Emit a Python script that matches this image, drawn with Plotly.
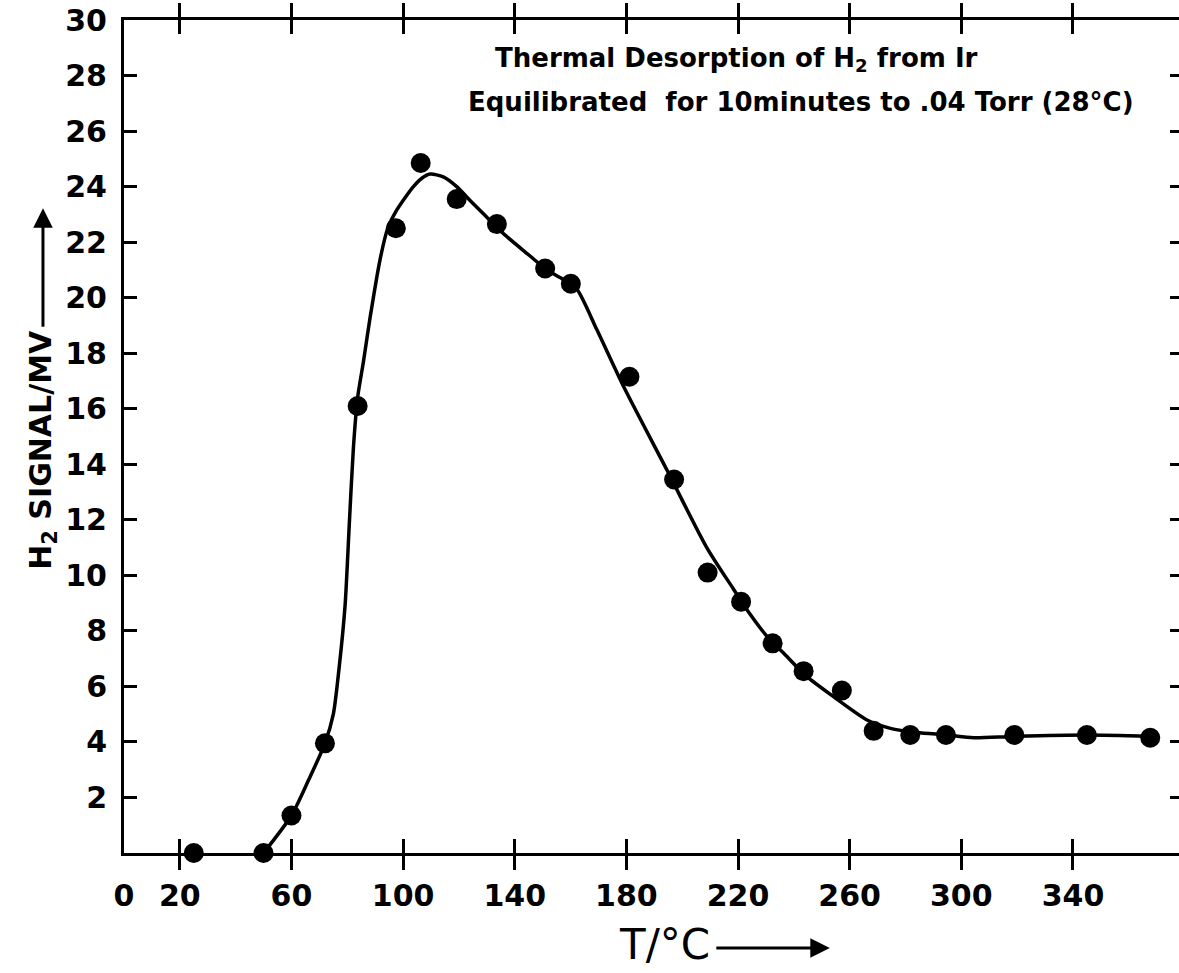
import plotly.graph_objects as go

# Measured data points (temperature in °C, H2 signal in mV)
temp = [25, 50, 60, 72, 83.7, 97.4, 106.3, 119.2, 133.6, 150.9, 160.1, 181.1,
        197.1, 209.1, 221.1, 232.4, 243.5, 257.2, 268.6, 281.7, 294.5, 319, 345, 367.7]
signal = [0.0, 0.0, 1.35, 3.95, 16.1, 22.5, 24.85, 23.55, 22.65, 21.05, 20.5, 17.15,
          13.45, 10.1, 9.05, 7.55, 6.55, 5.85, 4.4, 4.25, 4.25, 4.25, 4.25, 4.15]

# Hand-drawn smooth curve
curve_x = [50, 60, 66, 72, 75, 77, 79.2, 80.8, 82.2, 83.7, 85.8, 88.2,
           91.8, 94.5, 97.7, 100.7, 103.7, 106.7, 109.7, 114.4, 119.2, 124, 130,
           136, 145.5, 151.5, 157.5, 162.3, 169.4, 179, 194.5, 208.8, 218.4, 223.2,
           230.4, 236.3, 244.7, 254.2, 266.2, 274.6, 284.1, 294.9, 304.4, 318.6, 345, 367.7]
curve_y = [0.0, 1.35, 2.6, 3.95, 5.0, 6.6, 8.9, 12.0, 14.6, 16.4, 17.7, 19.3,
           21.4, 22.5, 23.15, 23.6, 24.0, 24.3, 24.45, 24.35, 24.0, 23.5, 22.9,
           22.3, 21.5, 21.0, 20.65, 20.3, 18.85, 16.8, 13.8, 11.0, 9.5, 8.76,
           7.8, 7.2, 6.35, 5.63, 4.79, 4.49, 4.34, 4.25, 4.15, 4.2, 4.25, 4.2]

x_tickvals = [0, 20, 60, 100, 140, 180, 220, 260, 300, 340]
x_ticktext = ["0", "20", "60", "100", "140", "180", "220", "260", "300", "340"]
y_tickvals = [2, 4, 6, 8, 10, 12, 14, 16, 18, 20, 22, 24, 26, 28, 30]
y_right_ticks = [2, 4, 6, 8, 10, 12, 14, 16, 18, 20, 22, 24, 26, 28]

title_line1 = "Thermal Desorption of H<sub>2</sub> from Ir"
title_line2 = "Equilibrated  for 10minutes to .04 Torr (28°C)"
x_title = "T/°C"
y_title = "H<sub>2</sub> SIGNAL/MV"

FONT = "DejaVu Sans"

fig = go.Figure()
fig.add_trace(go.Scatter(x=curve_x, y=curve_y, mode="lines",
                         line=dict(color="black", width=3.5, shape="spline", smoothing=0.7),
                         cliponaxis=False, showlegend=False, hoverinfo="skip"))
fig.add_trace(go.Scatter(x=temp, y=signal, mode="markers",
                         marker=dict(color="black", size=20, line=dict(width=0)),
                         cliponaxis=False, showlegend=False))
# invisible trace to activate right-side tick axis
fig.add_trace(go.Scatter(x=[0], y=[0], yaxis="y2", mode="markers",
                         marker=dict(opacity=0), showlegend=False, hoverinfo="skip"))

fig.update_layout(
    width=1179, height=973,
    margin=dict(l=124, r=0, t=20, b=120),
    paper_bgcolor="white", plot_bgcolor="white",
    font=dict(family=FONT, color="black"),
    xaxis=dict(range=[0, 378], tickvals=x_tickvals, ticktext=x_ticktext,
               ticks="inside", ticklen=14, tickwidth=3, tickcolor="black",
               showline=True, linewidth=3, linecolor="black", mirror="allticks",
               showgrid=False, zeroline=False, ticklabelstandoff=14,
               tickfont=dict(family=FONT, size=30, color="black", weight="bold")),
    yaxis=dict(range=[0, 30], tickvals=y_tickvals,
               ticks="inside", ticklen=13, tickwidth=3, tickcolor="black",
               showline=True, linewidth=3, linecolor="black", mirror=False,
               showgrid=False, zeroline=False, ticklabelstandoff=8,
               tickfont=dict(family=FONT, size=30, color="black", weight="bold")),
    yaxis2=dict(range=[0, 30], overlaying="y", side="right", tickvals=y_right_ticks,
                ticks="inside", ticklen=9, tickwidth=3, tickcolor="black",
                showline=False, showgrid=False, zeroline=False, showticklabels=False),
    annotations=[
        dict(text=title_line1, xref="paper", yref="paper", x=0.581, y=0.952,
             xanchor="center", yanchor="middle", showarrow=False,
             font=dict(family=FONT, size=26, color="black", weight="bold")),
        dict(text=title_line2, xref="paper", yref="paper", x=0.642, y=0.9016,
             xanchor="center", yanchor="middle", showarrow=False,
             font=dict(family=FONT, size=26, color="black", weight="bold")),
        dict(text=x_title, xref="paper", yref="paper", x=0.512, y=-0.110,
             xanchor="center", yanchor="middle", showarrow=False,
             font=dict(family=FONT, size=42, color="black")),
        dict(text="", xref="paper", yref="paper", x=0.669, y=-0.114,
             showarrow=True, ax=-115, ay=0, arrowhead=2, arrowsize=1.3,
             arrowwidth=3, arrowcolor="black"),
        dict(text=y_title, xref="paper", yref="paper", x=-0.0768, y=0.484,
             xanchor="center", yanchor="middle", textangle=-90, showarrow=False,
             font=dict(family=FONT, size=30, color="black", weight="bold")),
        dict(text="", xref="paper", yref="paper", x=-0.0768, y=0.774,
             showarrow=True, ax=0, ay=120, arrowhead=2, arrowsize=1.3,
             arrowwidth=3, arrowcolor="black"),
    ],
)

fig.write_html("out.html")
